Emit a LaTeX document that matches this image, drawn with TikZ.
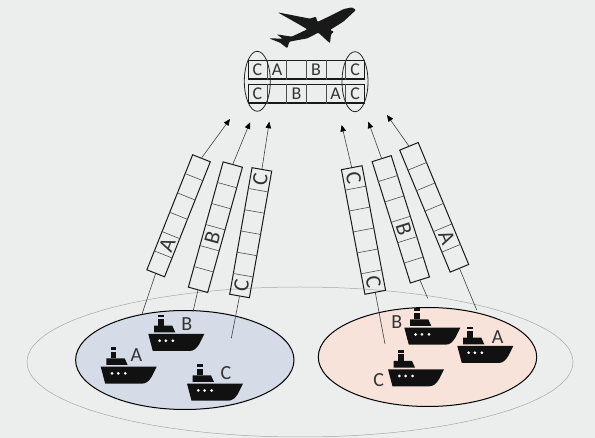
\documentclass[tikz,border=0pt]{standalone}
\usepackage{fontspec}
\setmainfont{Carlito}
\usetikzlibrary{arrows.meta}
\usetikzlibrary{calc}
\usetikzlibrary{shapes.geometric}
\definecolor{pagegray}{HTML}{ECEEEE}
\definecolor{zoneblue}{HTML}{D5DCE7}
\definecolor{zonepink}{HTML}{F8E3DA}
\definecolor{inkgray}{HTML}{333333}
\definecolor{shipblack}{HTML}{111111}
\tikzset{
  zone/.style={draw=black,line width=1pt,ellipse,inner sep=0pt,minimum width=218.4pt,minimum height=99pt},
  region/.style={draw=black!35,line width=0.5pt,ellipse,inner sep=0pt,minimum width=546pt,minimum height=150pt},
  beam/.style={draw=black!85,line width=0.8pt,ellipse,inner sep=0pt,minimum width=26pt,minimum height=60pt},
  strip/.style={draw=black!90,line width=1pt,inner sep=0pt,minimum height=20pt},
  frame/.style={draw=black!90,line width=1.3pt,inner sep=0pt,minimum width=116pt,minimum height=18.5pt},
  letter/.style={text=inkgray,font=\fontsize{18}{18}\selectfont,inner sep=0pt},
  shipname/.style={text=inkgray,font=\fontsize{20}{20}\selectfont,inner sep=0pt},
  slanted/.style={text=inkgray,font=\fontsize{22}{22}\selectfont,inner sep=0pt},
  link/.style={draw=black!75,line width=0.6pt},
  uplink/.style={link,-{Triangle[length=6.5pt,width=5.5pt,color=black]}}
}
% Six cell dividers across a strip node
\newcommand{\stripcells}[1]{
  \foreach \i in {1,...,5}
    \draw[black!70,line width=0.6pt] ($(#1.north west)!\i/6!(#1.north east)$)--($(#1.south west)!\i/6!(#1.south east)$);
}
\newcommand{\drawship}[2]{
  \begin{scope}[shift={(#1,#2)}]
    \fill[shipblack] (0,0)--(56,0)--(51,10) .. controls (48,15) and (45,17) .. (41,17)--(4.5,17)--cycle;
    \fill[shipblack] (5.7,-1.7)--(5.7,-8.3)--(24,-8.3)--(27,-1.7)--cycle;
    \fill[shipblack] (10,-8.3) rectangle (15.7,-15);
    \fill[shipblack] (10,-16.7) rectangle (15.7,-19.3);
    \foreach \u in {11.3,17.6,24.6}
      \fill[white] (\u,6.7) circle (1.5);
  \end{scope}
}
\begin{document}
\begin{tikzpicture}[x=1pt,y=-1pt]
    \useasboundingbox[fill=pagegray] (0,0) rectangle (595,438);
    \node[region] (outer) at (300,362) {};
    \node[zone,fill=zoneblue] (leftzone) at (184.8,360) {};
    \node[zone,fill=zonepink] (rightzone) at (427.5,357) {};
    % Ships and their labels
    \drawship{100.7}{366.7}
    \drawship{148.3}{334}
    \drawship{187}{383.7}
    \drawship{404.3}{327.7}
    \drawship{457.3}{346}
    \drawship{388}{369.3}
    \node[shipname] (shipLA) at (136.3,355.3) {A};
    \node[shipname] (shipLB) at (186.7,324.3) {B};
    \node[shipname] (shipLC) at (226,373.3) {C};
    \node[shipname] (shipRB) at (396.7,322.3) {B};
    \node[shipname] (shipRA) at (497.7,337.3) {A};
    \node[shipname] (shipRC) at (378.7,380) {C};
    % Strips, the east end of the left ones is the top end
    \node[strip,minimum width=123.8pt,minimum height=19pt,rotate=68.3] (stripLA) at (178.6,215.8) {};
    \node[strip,minimum width=130pt,rotate=74.5] (stripLB) at (215.4,227.2) {};
    \node[strip,minimum width=128.5pt,rotate=80] (stripLC) at (250.7,232.7) {};
    \node[strip,minimum width=126.8pt,minimum height=21pt,rotate=-79.3] (stripRC) at (363.5,230) {};
    \node[strip,minimum width=127.2pt,rotate=-72.5] (stripRB) at (400.8,219.3) {};
    \node[strip,minimum width=132pt,rotate=-67.5] (stripRA) at (434.2,207.3) {};
    \stripcells{stripLA}
    \stripcells{stripLB}
    \stripcells{stripLC}
    \stripcells{stripRC}
    \stripcells{stripRB}
    \stripcells{stripRA}
    \node[slanted,rotate=68.3] (textLA) at ($(stripLA.west)!.25!(stripLA.east)$) {A};
    \node[slanted,rotate=74.5] (textLB) at ($(stripLB.west)!.4167!(stripLB.east)$) {B};
    \node[slanted,rotate=80] (textLC) at ($(stripLC.west)!.0833!(stripLC.east)$) {C};
    \node[slanted,rotate=80] (textLD) at ($(stripLC.west)!.9167!(stripLC.east)$) {C};
    \node[slanted,rotate=-79.3] (textRC) at ($(stripRC.west)!.0833!(stripRC.east)$) {C};
    \node[slanted,rotate=-79.3] (textRD) at ($(stripRC.west)!.9167!(stripRC.east)$) {C};
    \node[slanted,rotate=-72.5] (textRB) at ($(stripRB.west)!.5833!(stripRB.east)$) {B};
    \node[slanted,rotate=-67.5] (textRA) at ($(stripRA.west)!.75!(stripRA.east)$) {A};
    % Free ends
    \coordinate (tipLA) at (230,119);
    \coordinate (tipLB) at (250,122.3);
    \coordinate (tipLC) at (269.3,121.7);
    \coordinate (tipRC) at (341.7,125);
    \coordinate (tipRB) at (368.3,121.7);
    \coordinate (tipRA) at (387,115);
    \coordinate (footLA) at (141.7,315);
    \coordinate (footLB) at (193,311.7);
    \coordinate (footLC) at (231.3,338.3);
    \coordinate (footRC) at (385,344);
    \coordinate (footRB) at (427.7,298.3);
    \coordinate (footRA) at (476.7,310);
    \draw[uplink] (stripLA.east)--(tipLA);
    \draw[uplink] (stripLB.east)--(tipLB);
    \draw[uplink] (stripLC.east)--(tipLC);
    \draw[uplink] (stripRC.west)--(tipRC);
    \draw[uplink] (stripRB.west)--(tipRB);
    \draw[uplink] (stripRA.west)--(tipRA);
    \draw[link] (stripLA.west)--(footLA);
    \draw[link] (stripLB.west)--(footLB);
    \draw[link] (stripLC.west)--(footLC);
    \draw[link] (stripRC.east)--(footRC);
    \draw[link] (stripRB.east)--(footRB);
    \draw[link] (stripRA.east)--(footRA);
    % Received frames
    \node[frame] (frameone) at (306.3,69.8) {};
    \node[frame] (frametwo) at (306.3,93.8) {};
    \foreach \i in {1,...,5} {
      \draw[black!70,line width=0.6pt] ($(frameone.north west)!\i/6!(frameone.north east)$)--($(frameone.south west)!\i/6!(frameone.south east)$);
      \draw[black!70,line width=0.6pt] ($(frametwo.north west)!\i/6!(frametwo.north east)$)--($(frametwo.south west)!\i/6!(frametwo.south east)$);
    }
    \foreach \u/\t/\n in {0/C/a,1/A/b,3/B/c,5/C/d}
      \node[letter] (one\n) at ($(frameone.west)!\u/6+1/12!(frameone.east)$) {\t};
    \foreach \u/\t/\n in {0/C/a,2/B/b,4/A/c,5/C/d}
      \node[letter] (two\n) at ($(frametwo.west)!\u/6+1/12!(frametwo.east)$) {\t};
    \node[beam] (beamleft) at (257.3,81.3) {};
    \node[beam] (beamright) at (355,81.7) {};
    % Aeroplane
    \begin{scope}[shift={(230,0)},x=0.3333pt,y=-0.3333pt]
      \fill[black!90,rounded corners=1pt] (378,30)--(366,22)--(342,27)--(300,48)--(262,66)--(258,50)--(240,56)--(143,37)--(205,72)--(232,88)--(185,110)--(140,103)--(158,116)--(117,115)--(150,128)--(172,145)--(178,125)--(232,115)--(265,98)--(300,130)--(303,103)--(312,95)--(300,90)--(340,65)--cycle;
    \end{scope}
\end{tikzpicture}
\end{document}
